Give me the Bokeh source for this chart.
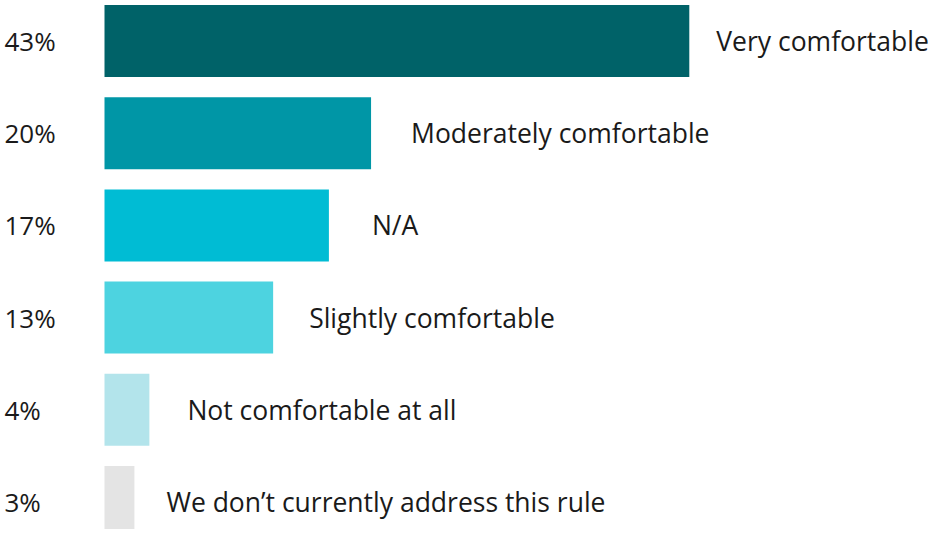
from bokeh.plotting import figure
from bokeh.models import Range1d, ColumnDataSource
from bokeh.core.properties import value
from bokeh.embed import file_html
from bokeh.resources import INLINE

categories = ["Very comfortable", "Moderately comfortable", "N/A",
              "Slightly comfortable", "Not comfortable at all",
              "We don\u2019t currently address this rule"]
percent_labels = ["43%", "20%", "17%", "13%", "4%", "3%"]
values = [43.0, 19.6, 16.5, 12.4, 3.3, 2.2]
colors = ["#006268", "#0096A6", "#00BCD4", "#4DD3E0", "#B3E4EB", "#E4E4E4"]
label_gap_px = [27, 40, 43, 36, 38, 32]

W, H = 932, 529
px_per_unit = 13.6
x0_page = 104
x_start = -x0_page / px_per_unit
x_end = (W - x0_page) / px_per_unit

row_px = 92.2
first_center = 40.5
n = len(categories)
ys = [n - 1 - i for i in range(n)]
y_end = (n - 1) + first_center / row_px
y_start = (n - 1) - (H - first_center) / row_px

p = figure(width=W, height=H, output_backend="svg", toolbar_location=None,
           x_range=Range1d(x_start, x_end), y_range=Range1d(y_start, y_end),
           min_border=0)
p.axis.visible = False
p.grid.visible = False
p.outline_line_color = None
p.background_fill_color = "white"
p.border_fill_color = "white"

src = ColumnDataSource(dict(y=ys, v=values, c=colors, cat=categories,
                            pl=percent_labels,
                            lx=[v + g / px_per_unit for v, g in zip(values, label_gap_px)],
                            px=[x_start + 4 / px_per_unit] * n))
p.hbar(y="y", left=0, right="v", height=72 / row_px, fill_color="c",
       line_color=None, source=src)
p.text(x="lx", y="y", text="cat", source=src, text_font=value("Open Sans"),
       text_font_size="26.5px", text_color="#1a1a1a", text_baseline="middle",
       text_align="left")
p.text(x="px", y="y", text="pl", source=src, text_font=value("Open Sans"),
       text_font_size="26px", text_color="#1a1a1a", text_baseline="middle",
       text_align="left")

open("out.html", "w").write(file_html(p, INLINE))
